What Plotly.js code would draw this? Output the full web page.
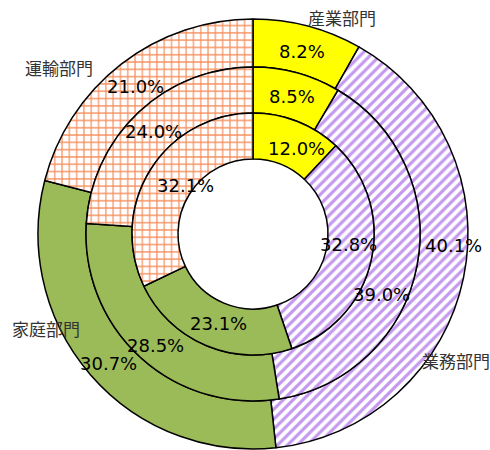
<!DOCTYPE html>
<html>
<head>
<meta charset="utf-8">
<script src="https://cdn.plot.ly/plotly-3.0.1.min.js"></script>
<style>html,body{margin:0;padding:0;background:#fff;}#chart{width:490px;height:450px;}</style>
</head>
<body>
<div id="chart"></div>
<script>
// ---- data ----
const categories = ["産業部門", "業務部門", "家庭部門", "運輸部門"];
const outerValues = [8.2, 40.1, 30.7, 21.0];
const middleValues = [8.5, 39.0, 28.5, 24.0];
const innerValues = [12.0, 32.8, 23.1, 32.1];

// ---- styles ----
const W = 490, H = 450;
const cx = 253, cy = 234;               // pixel centre
const radii = {outer: 215, middle: 167, inner: 121, hole: 75};
const fillColors = ["#FFFF00", "#FFFFFF", "#9BBB59", "#FFFFFF"];
const patterns = {
  shape: ["", "/", "", "+"],
  fgcolor: ["#FFFF00", "#C598F0", "#9BBB59", "#F58E5C"],
  bgcolor: ["#FFFF00", "#FFFFFF", "#9BBB59", "#FFFFFF"],
  size: [8, 7, 8, 7.3],
  solidity: [0, 0.45, 0, 0.3],
  fillmode: "replace"
};

function domainFor(r) {
  const cyb = H - cy;
  return { x: [(cx - r) / W, (cx + r) / W], y: [(cyb - r) / H, (cyb + r) / H] };
}

function ring(values, rOut, rIn) {
  return {
    type: "pie",
    labels: categories,
    values: values,
    sort: false,
    direction: "clockwise",
    rotation: 0,
    hole: rIn / rOut,
    domain: domainFor(rOut),
    textinfo: "none",
    hoverinfo: "label+value",
    marker: {
      colors: fillColors,
      pattern: patterns,
      line: { color: "#000000", width: 1.5 }
    },
    showlegend: false
  };
}

const data = [
  ring(outerValues, radii.outer, radii.middle),
  ring(middleValues, radii.middle, radii.inner),
  ring(innerValues, radii.inner, radii.hole)
];

// label positions (pixels), in category order
const outerLabelPos = [[302, 52], [453, 246], [108, 363], [135, 86]];
const middleLabelPos = [[292, 97], [381, 294], [155, 345], [153, 131]];
const innerLabelPos = [[296, 148], [348, 245], [218, 323], [185, 185]];
const catLabelPos = [[342, 17, "center"], [420, 360, "left"], [46, 328, "center"], [59, 68, "center"]];

const pctFont = { family: "DejaVu Sans, Verdana, sans-serif", size: 18, color: "#000000" };
const catFont = { family: "Noto Sans CJK JP, sans-serif", size: 17, color: "#333333" };

const annotations = [];
function addPct(values, pos) {
  values.forEach((v, i) => {
    annotations.push({
      xref: "paper", yref: "paper",
      x: pos[i][0] / W, y: 1 - pos[i][1] / H,
      xanchor: "center", yanchor: "middle",
      text: v.toFixed(1) + "%", showarrow: false, font: pctFont
    });
  });
}
addPct(outerValues, outerLabelPos);
addPct(middleValues, middleLabelPos);
addPct(innerValues, innerLabelPos);
categories.forEach((c, i) => {
  annotations.push({
    xref: "paper", yref: "paper",
    x: catLabelPos[i][0] / W, y: 1 - catLabelPos[i][1] / H,
    xanchor: catLabelPos[i][2], yanchor: "middle",
    text: c, showarrow: false, font: catFont
  });
});

const layout = {
  width: W, height: H,
  margin: { l: 0, r: 0, t: 0, b: 0 },
  paper_bgcolor: "#FFFFFF",
  plot_bgcolor: "#FFFFFF",
  showlegend: false,
  annotations: annotations
};

Plotly.newPlot("chart", data, layout, { displayModeBar: false, staticPlot: true });
</script>
</body>
</html>
